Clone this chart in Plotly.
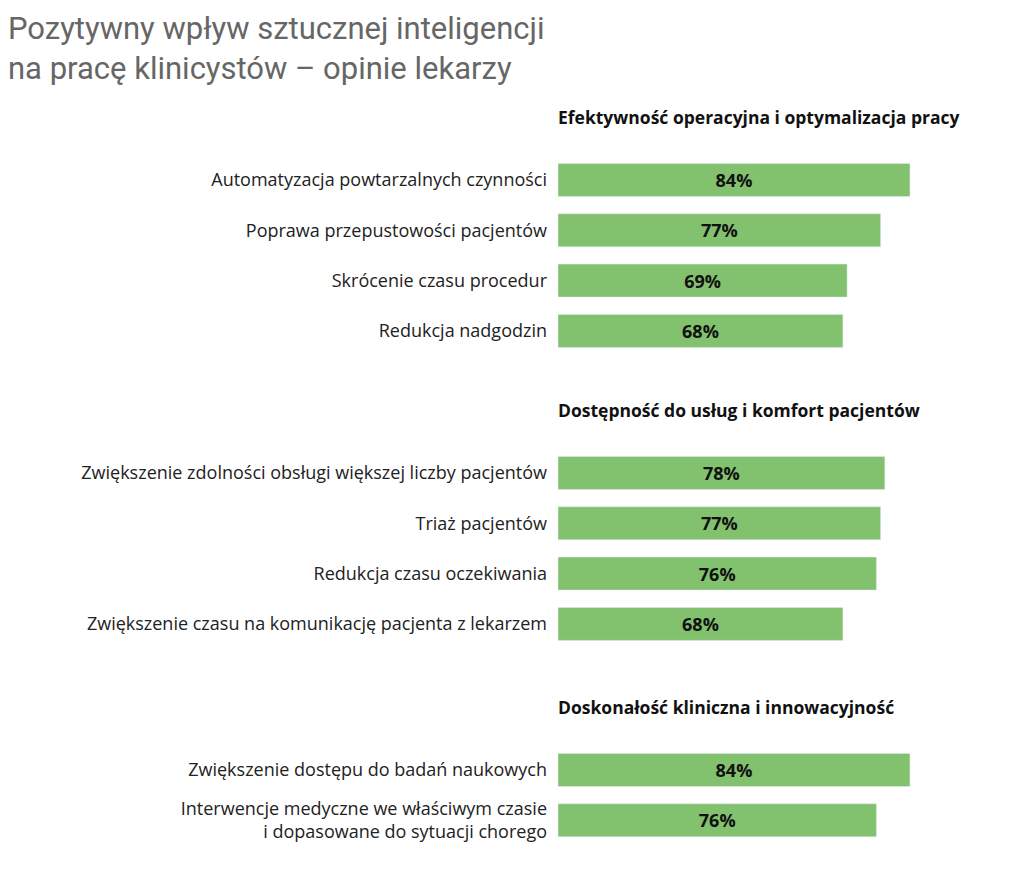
import plotly.graph_objects as go

groups = ["Efektywność operacyjna i optymalizacja pracy",
          "Dostępność do usług i komfort pacjentów",
          "Doskonałość kliniczna i innowacyjność"]
labels = [
    ["Automatyzacja powtarzalnych czynności", "Poprawa przepustowości pacjentów",
     "Skrócenie czasu procedur", "Redukcja nadgodzin"],
    ["Zwiększenie zdolności obsługi większej liczby pacjentów", "Triaż pacjentów",
     "Redukcja czasu oczekiwania", "Zwiększenie czasu na komunikację pacjenta z lekarzem"],
    ["Zwiększenie dostępu do badań naukowych",
     "Interwencje medyczne we właściwym czasie<br>i dopasowane do sytuacji chorego"],
]
values = [[84, 77, 69, 68], [78, 77, 76, 68], [84, 76]]
header_y = [109, 402, 699]

W, H = 1024, 874
X0 = 550
ys, xs, ts = [], [], []
fig = go.Figure()
for g, hy in enumerate(header_y):
    for i, (lab, v) in enumerate(zip(labels[g], values[g])):
        ys.append(hy + 63 + i * 50.3)
        xs.append(v)
        ts.append(lab)
    fig.add_annotation(x=X0 / W, y=hy, xref="paper", yref="y", text="<b>" + groups[g] + "</b>",
                       showarrow=False, xanchor="left", yanchor="middle", xshift=-2,
                       font=dict(family="Open Sans", size=17.5, color="#111"))

fig.add_trace(go.Bar(x=xs, y=ys, orientation="h", width=33, marker_color="#82c16d",
                     text=[f"<b>{v}%</b>" for v in xs], textposition="inside",
                     insidetextanchor="middle", textangle=0,
                     textfont=dict(family="Open Sans", size=18, color="#111")))

fig.add_annotation(x=0, y=40, xref="paper", yref="y",
                   text="Pozytywny wpływ sztucznej inteligencji<br>na pracę klinicystów – opinie lekarzy",
                   showarrow=False, xanchor="left", yanchor="middle", align="left", xshift=-2,
                   font=dict(family="Roboto", size=31, color="#666"))

fig.update_layout(width=W, height=H, margin=dict(l=0, r=0, t=0, b=0),
                  plot_bgcolor="white", paper_bgcolor="white", showlegend=False,
                  xaxis=dict(domain=[X0 / W, (X0 + 419) / W], range=[0, 100], visible=False),
                  yaxis=dict(range=[H, 0], tickvals=ys, ticktext=ts, showgrid=False,
                             zeroline=False, ticks="", ticklabelstandoff=10,
                             tickfont=dict(family="Open Sans", size=18, color="#222")))
fig.write_html("out.html")
